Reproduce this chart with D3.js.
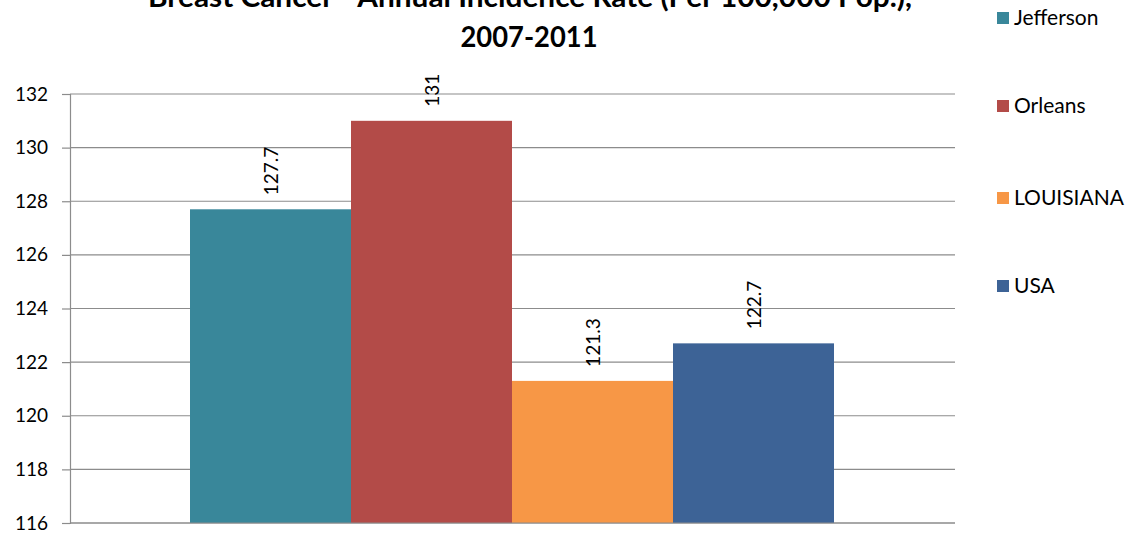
<!DOCTYPE html>
<html><head><meta charset="utf-8">
<script src="https://cdn.jsdelivr.net/npm/d3@7"></script>
<style>body{margin:0;background:#fff}svg{display:block}text{font-family:Lato,"Open Sans",sans-serif}</style>
</head><body>
<svg id="c" width="1125" height="536"></svg>
<script>
const categories = ["Jefferson", "Orleans", "LOUISIANA", "USA"];
const values = [127.7, 131, 121.3, 122.7];
const labels = ["127.7", "131", "121.3", "122.7"];
const colors = ["#39879a", "#b34b48", "#f79746", "#3d6396"];
const yTicks = [116, 118, 120, 122, 124, 126, 128, 130, 132];

(function () {
const svg = d3.select("#c");
const mLeft = 70, mRight = 955, mTop = 94, mBottom = 523;

const y = d3.scaleLinear().domain([116, 132]).range([mBottom, mTop]);
const x = d3.scaleBand().domain(categories).range([190, 834]).padding(0);

// gridlines
svg.append("g").selectAll("line").data(yTicks).join("line")
  .attr("x1", mLeft).attr("x2", mRight)
  .attr("y1", d => y(d)).attr("y2", d => y(d))
  .attr("stroke", "#8c8c8c").attr("stroke-width", 1.2);

// bars
svg.append("g").selectAll("rect").data(values).join("rect")
  .attr("x", (d, i) => x(categories[i]))
  .attr("width", x.bandwidth())
  .attr("y", d => y(d))
  .attr("height", d => mBottom - y(d))
  .attr("fill", (d, i) => colors[i]);

// y axis
const ax = svg.append("g").attr("transform", `translate(${mLeft},0)`)
  .call(d3.axisLeft(y).tickValues(yTicks).tickSize(8).tickPadding(14).tickFormat(d3.format("d")));
ax.select(".domain").attr("stroke", "#8c8c8c").attr("stroke-width", 1.2);
ax.selectAll(".tick line").attr("stroke", "#8c8c8c").attr("stroke-width", 1.2);
ax.selectAll(".tick text").attr("font-size", 19).attr("fill", "#000").attr("font-family", "Lato, sans-serif");

// bottom axis line
svg.append("line").attr("x1", mLeft).attr("x2", mRight).attr("y1", mBottom).attr("y2", mBottom)
  .attr("stroke", "#8c8c8c").attr("stroke-width", 1.2);

// value labels
svg.append("g").selectAll("text").data(values).join("text")
  .attr("transform", (d, i) => `translate(${x(categories[i]) + x.bandwidth() / 2 + 7},${y(d) - 14}) rotate(-90)`)
  .attr("text-anchor", "start")
  .attr("font-size", 19).attr("fill", "#000")
  .text((d, i) => labels[i]);

// title (first line partly cut off at the top, as in the reference)
svg.append("text").attr("x", 530).attr("y", 7).attr("text-anchor", "middle")
  .attr("font-size", 28).attr("font-weight", "bold").attr("fill", "#000")
  .attr("textLength", 764).attr("lengthAdjust", "spacingAndGlyphs")
  .text("Breast Cancer - Annual Incidence Rate (Per 100,000 Pop.),");
svg.append("text").attr("x", 529).attr("y", 47).attr("text-anchor", "middle")
  .attr("font-size", 28).attr("font-weight", "bold").attr("fill", "#000")
  .attr("textLength", 137).attr("lengthAdjust", "spacingAndGlyphs")
  .text("2007-2011");

// legend
const legendY = [25, 113, 205, 293];
const lg = svg.append("g").selectAll("g").data(categories).join("g")
  .attr("transform", (d, i) => `translate(997,${legendY[i]})`);
lg.append("rect").attr("x", 0).attr("y", -13).attr("width", 12).attr("height", 12)
  .attr("fill", (d, i) => colors[i]);
lg.append("text").attr("x", 17).attr("y", 0).attr("font-size", 21).attr("fill", "#000").text(d => d);
})();
</script>
</body></html>
